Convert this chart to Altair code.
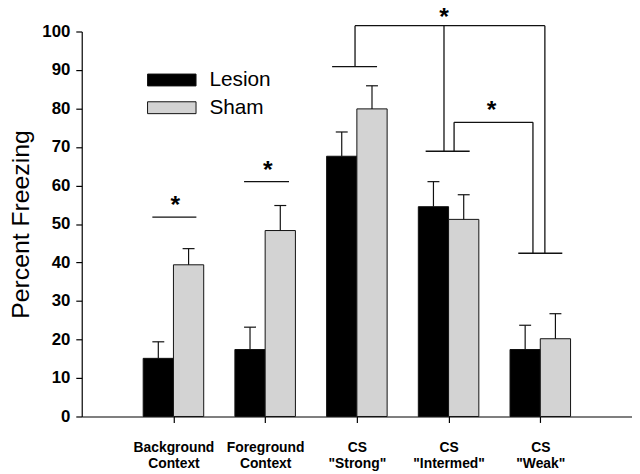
import json
import altair as alt
import pandas as pd

# ---- data ----
tick_labels = [["Background", "Context"], ["Foreground", "Context"],
               ["CS", '"Strong"'], ["CS", '"Intermed"'], ["CS", '"Weak"']]
groups = ["Lesion", "Sham"]
lesion_mean = [15.1, 17.4, 67.6, 54.5, 17.4]
lesion_sem = [4.3, 5.8, 6.3, 6.5, 6.3]
sham_mean = [39.4, 48.3, 79.9, 51.2, 20.2]
sham_sem = [4.2, 6.5, 6.0, 6.4, 6.5]

# significance annotations (in data units)
sig_h_x = [0.77, 1.77, 2.73, 2.98, 3.75, 4.06, 4.76]
sig_h_x2 = [1.25, 2.26, 3.22, 5.05, 4.23, 4.92, 5.24]
sig_h_y = [51.8, 61.0, 90.9, 101.5, 68.9, 76.4, 42.4]
sig_v_x = [2.98, 3.95, 4.06, 4.92, 5.05]
sig_v_y = [90.9, 68.9, 68.9, 42.4, 42.4]
sig_v_y2 = [101.5, 101.5, 76.4, 76.4, 101.5]
star_x = [1.02, 2.03, 3.95, 4.47]
star_y = [56.3, 65.3, 105.0, 80.9]

BAR_W = 0.33
CAP = 0.065

rows = []
for i in range(len(tick_labels)):
    k = i + 1
    for g, m, s in (("Lesion", lesion_mean[i], lesion_sem[i]), ("Sham", sham_mean[i], sham_sem[i])):
        x0 = k - BAR_W if g == "Lesion" else k
        x1 = x0 + BAR_W
        xc = (x0 + x1) / 2
        rows.append(dict(group=g, x0=x0, x1=x1, xc=xc, cap0=xc - CAP, cap1=xc + CAP,
                         mean=m, top=m + s, base=0))
df = pd.DataFrame(rows)
hdf = pd.DataFrame(dict(x=sig_h_x, x2=sig_h_x2, y=sig_h_y))
vdf = pd.DataFrame(dict(x=sig_v_x, y=sig_v_y, y2=sig_v_y2))
sdf = pd.DataFrame(dict(x=star_x, y=star_y))

FONT = "Liberation Sans"
xs = alt.Scale(domain=[0, 6], nice=False, zero=False)
ys = alt.Scale(domain=[0, 100], nice=False)

label_expr = json.dumps(tick_labels) + "[datum.value - 1]"

xaxis = alt.Axis(values=[1, 2, 3, 4, 5], labelExpr=label_expr, title=None, grid=False,
                 tickSize=6, labelFontSize=14, labelFontWeight="bold", labelPadding=18,
                 labelLineHeight=16.5, labelAngle=0, domainColor="black", tickColor="black",
                 labelColor="black", labelFont=FONT, labelOverlap=False)
yaxis = alt.Axis(values=list(range(0, 101, 10)), title="Percent Freezing", titleFontSize=25,
                 titleFontWeight="normal", titlePadding=8, titleFont=FONT, titleColor="black",
                 labelFontSize=17, labelFontWeight="bold", labelFont=FONT, labelColor="black",
                 tickSize=6, labelPadding=6, grid=False, domainColor="black", tickColor="black",
                 labelOverlap=False, tickCount=11)

legend = alt.Legend(title=None, orient="none", legendX=78, legendY=36,
                    symbolType="M-2,-0.49H2V0.49H-2Z", symbolSize=600,
                    symbolStrokeColor="#111", symbolStrokeWidth=1,
                    labelFontSize=21, labelFont=FONT, labelColor="black", labelOffset=25,
                    rowPadding=5, padding=0)


def X(f):
    return alt.X(f, scale=xs, axis=xaxis)


def Y(f):
    return alt.Y(f, scale=ys, axis=yaxis)


bars = alt.Chart(df).mark_bar(stroke="#111", strokeWidth=1).encode(
    x=X("x0:Q"), x2="x1:Q", y=Y("mean:Q"), y2="base:Q",
    color=alt.Color("group:N", scale=alt.Scale(domain=groups, range=["#000000", "#d3d3d3"]),
                    legend=legend),
)
err = alt.Chart(df).mark_rule(color="#111", strokeWidth=1.2).encode(
    x=X("xc:Q"), y=Y("mean:Q"), y2="top:Q")
caps = alt.Chart(df).mark_rule(color="#111", strokeWidth=1.2).encode(
    x=X("cap0:Q"), x2="cap1:Q", y=Y("top:Q"))
hlines = alt.Chart(hdf).mark_rule(color="#111", strokeWidth=1.3).encode(
    x=X("x:Q"), x2="x2:Q", y=Y("y:Q"))
vlines = alt.Chart(vdf).mark_rule(color="#111", strokeWidth=1.3).encode(
    x=X("x:Q"), y=Y("y:Q"), y2="y2:Q")
stars = alt.Chart(sdf).mark_text(text="*", fontSize=25, fontWeight="bold", font=FONT,
                                 color="black", baseline="alphabetic", dy=13).encode(
    x=X("x:Q"), y=Y("y:Q"))

chart = alt.layer(bars, err, caps, hlines, vlines, stars).properties(
    width=556, height=389,
    autosize=alt.AutoSizeParams(type="none"),
    padding={"left": 74.5, "top": 21.3, "right": 0, "bottom": 60},
).configure_view(stroke=None).configure_axis(domainWidth=1.2, tickWidth=1.2)

chart.save("out.html", embed_options={"renderer": "svg", "actions": False})
